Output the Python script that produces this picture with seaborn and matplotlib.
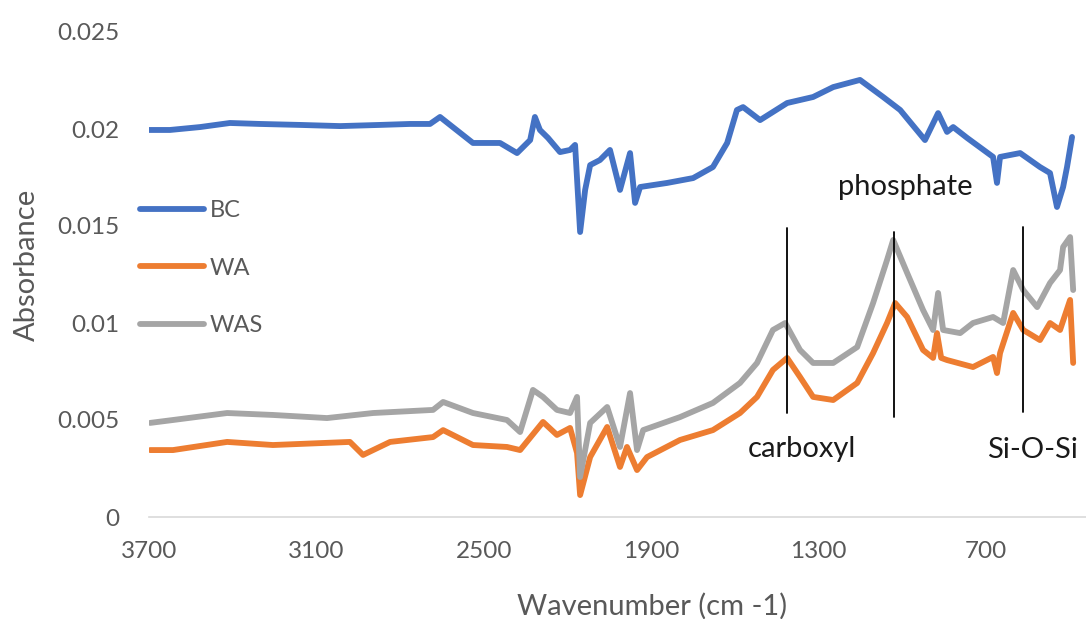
import matplotlib
matplotlib.use("Agg")
import matplotlib.pyplot as plt
import seaborn as sns
import pandas as pd

# FTIR absorbance spectra (wavenumber in cm-1, absorbance)
bc_wn = [3700, 3625, 3517, 3410, 3302, 3159, 3015, 2872, 2765, 2693, 2657, 2621,
         2539, 2442, 2381, 2334, 2317, 2299, 2270, 2227, 2191, 2173, 2155, 2137,
         2119, 2084, 2048, 2012, 1976, 1958, 1940, 1843, 1750, 1679, 1628, 1593,
         1571, 1510, 1413, 1320, 1248, 1152, 1069, 1008, 919, 872, 840, 818, 768,
         675, 661, 650, 578, 507, 471, 446, 424, 410, 392]
bc_abs = [0.01995, 0.01995, 0.02010, 0.02031, 0.02026, 0.02021, 0.02015, 0.02021,
          0.02026, 0.02026, 0.02062, 0.02021, 0.01928, 0.01928, 0.01876, 0.01943,
          0.02062, 0.01995, 0.01954, 0.01881, 0.01892, 0.01918, 0.01469, 0.01686,
          0.01814, 0.01840, 0.01892, 0.01686, 0.01876, 0.01619, 0.01701, 0.01722,
          0.01747, 0.01804, 0.01928, 0.02098, 0.02113, 0.02046, 0.02134, 0.02165,
          0.02216, 0.02253, 0.02165, 0.02098, 0.01943, 0.02082, 0.01985, 0.02010,
          0.01954, 0.01856, 0.01722, 0.01856, 0.01876, 0.01804, 0.01773, 0.01598,
          0.01701, 0.01804, 0.01959]

wa_wn = [3696, 3614, 3420, 3256, 2980, 2933, 2836, 2682, 2646, 2539, 2417, 2370,
         2288, 2238, 2191, 2166, 2155, 2119, 2058, 2012, 1987, 1951, 1915, 1797,
         1679, 1582, 1521, 1464, 1413, 1367, 1320, 1248, 1162, 1105, 1055, 1026,
         983, 926, 890, 876, 861, 840, 747, 675, 661, 650, 603, 567, 507, 471,
         435, 399, 388]
wa_abs = [0.00345, 0.00345, 0.00387, 0.00371, 0.00387, 0.00320, 0.00387, 0.00412,
          0.00448, 0.00371, 0.00361, 0.00345, 0.00490, 0.00423, 0.00459, 0.00330,
          0.00113, 0.00309, 0.00464, 0.00258, 0.00361, 0.00242, 0.00309, 0.00397,
          0.00448, 0.00536, 0.00619, 0.00758, 0.00820, 0.00722, 0.00619, 0.00603,
          0.00691, 0.00845, 0.01000, 0.01103, 0.01031, 0.00861, 0.00820, 0.00948,
          0.00820, 0.00809, 0.00773, 0.00825, 0.00742, 0.00845, 0.01052, 0.00964,
          0.00912, 0.01000, 0.00964, 0.01119, 0.00794]

was_wn = [3696, 3614, 3420, 3256, 3062, 2897, 2682, 2646, 2539, 2417, 2370, 2324,
          2288, 2238, 2191, 2166, 2155, 2119, 2058, 2012, 1976, 1951, 1929, 1797,
          1679, 1582, 1521, 1464, 1420, 1367, 1320, 1248, 1162, 1105, 1055, 1033,
          983, 926, 890, 872, 854, 793, 747, 675, 639, 603, 567, 517, 471, 435,
          424, 399, 388]
was_abs = [0.00485, 0.00500, 0.00536, 0.00526, 0.00510, 0.00536, 0.00552, 0.00593,
           0.00536, 0.00500, 0.00438, 0.00655, 0.00619, 0.00552, 0.00536, 0.00619,
           0.00206, 0.00485, 0.00567, 0.00361, 0.00639, 0.00345, 0.00448, 0.00515,
           0.00588, 0.00691, 0.00794, 0.00964, 0.01000, 0.00861, 0.00794, 0.00794,
           0.00876, 0.01103, 0.01325, 0.01428, 0.01258, 0.01067, 0.00964, 0.01155,
           0.00964, 0.00948, 0.01000, 0.01031, 0.01000, 0.01273, 0.01170, 0.01082,
           0.01206, 0.01273, 0.01392, 0.01443, 0.01170]

series_names = ["BC", "WA", "WAS"]
series_colors = ["#4472C4", "#ED7D31", "#A5A5A5"]

# band assignments: (label, position, line bottom, line top)
band_labels = ["carboxyl", "phosphate", "Si-O-Si"]
band_wn = [1413, 1030, 567]
band_low = [0.00536, 0.00515, 0.00541]
band_high = [0.01490, 0.01469, 0.01495]
band_text_wn = [1360, 990, 535]
band_text_abs = [0.00350, 0.01700, 0.00345]

x_ticks = [3700, 3100, 2500, 1900, 1300, 700]
y_ticks = [0, 0.005, 0.01, 0.015, 0.02, 0.025]
y_tick_labels = ["0", "0.005", "0.01", "0.015", "0.02", "0.025"]

sns.set_theme(style="white")
plt.rcParams["font.family"] = ["Lato", "DejaVu Sans"]

frames = []
for name, wn, ab in [("BC", bc_wn, bc_abs), ("WA", wa_wn, wa_abs), ("WAS", was_wn, was_abs)]:
    frames.append(pd.DataFrame({"wavenumber": wn, "absorbance": ab, "sample": name}))
df = pd.concat(frames, ignore_index=True)

fig = plt.figure(figsize=(10.86, 6.19), dpi=100)
ax = fig.add_axes([149 / 1086, 1 - 517 / 619, 1 - 149 / 1086, (517 - 32) / 619])

sns.lineplot(data=df, x="wavenumber", y="absorbance", hue="sample",
             hue_order=series_names, palette=series_colors, sort=False,
             estimator=None, linewidth=4.2, ax=ax, legend=False)

for wn, lo, hi in zip(band_wn, band_low, band_high):
    ax.plot([wn, wn], [lo, hi], color="black", linewidth=1.3)
for lab, tx, ty in zip(band_labels, band_text_wn, band_text_abs):
    ax.text(tx, ty, lab, ha="center", va="center", fontsize=21, color="#1a1a1a")

ax.set_xlim(3700, 342)
ax.set_ylim(0, 0.025)
ax.set_xticks(x_ticks)
ax.set_xticklabels([str(t) for t in x_ticks])
ax.set_yticks(y_ticks)
ax.set_yticklabels(y_tick_labels)
ax.tick_params(axis="x", length=0, pad=17, labelsize=17.5, labelcolor="#595959")
ax.tick_params(axis="y", length=0, pad=21, labelsize=17.5, labelcolor="#595959")

for side in ["top", "right", "left"]:
    ax.spines[side].set_visible(False)
ax.spines["bottom"].set_color("#d9d9d9")
ax.spines["bottom"].set_linewidth(1.2)
ax.grid(False)

ax.set_xlabel("Wavenumber (cm -1)", fontsize=21, color="#595959")
ax.set_ylabel("Absorbance", fontsize=21, color="#595959")
ax.xaxis.label.set_va("center")
ax.yaxis.label.set_va("center")
ax.xaxis.set_label_coords((652 - 149) / 937, (517 - 606) / 485)
ax.yaxis.set_label_coords((27 - 149) / 937, (517 - 265) / 485)

handles = [plt.Line2D([], [], color=c, linewidth=4.2) for c in series_colors]
ax.legend(handles, series_names, loc="upper left",
          bbox_to_anchor=(140 / 1086, 1 - 200 / 619), bbox_transform=fig.transFigure,
          frameon=False, fontsize=17, labelcolor="#595959", handlelength=2.7,
          handletextpad=0.25, labelspacing=1.55, borderpad=0, borderaxespad=0)

fig.savefig("out.png", dpi=100)
